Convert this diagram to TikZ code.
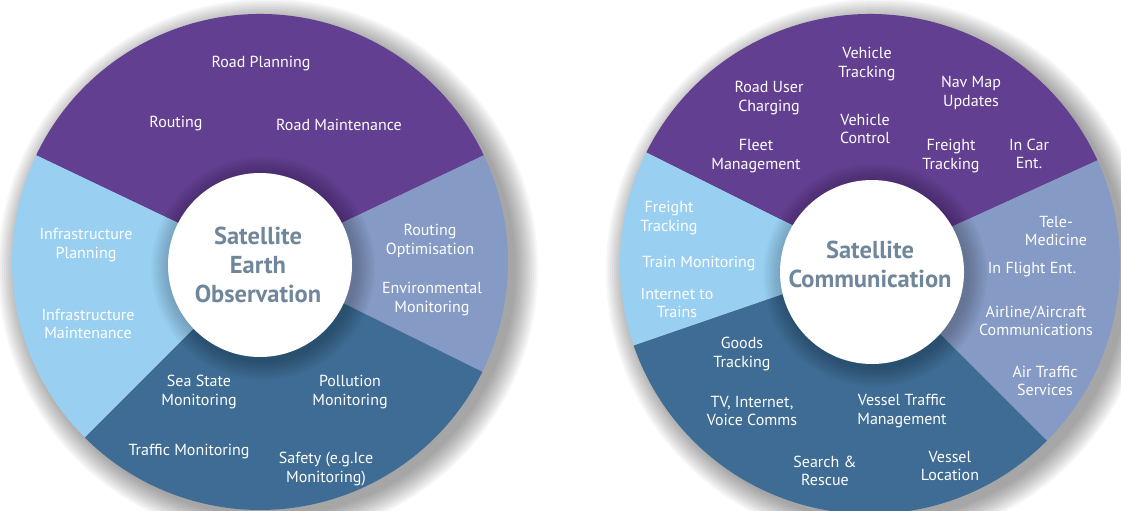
\documentclass[tikz,border=0pt]{standalone}
\usepackage{fontspec}
\setmainfont{PT Sans}
\begin{document}
\begin{tikzpicture}[x=1pt,y=-1pt,
  item/.style={inner sep=0, outer sep=0, yshift=-2pt, text=white, align=center, font=\fontsize{16}{18.5}\selectfont},
  hub/.style={inner sep=0, outer sep=0, text=custcol_70_87_9b, align=center, font=\fontsize{24.5}{29}\selectfont\bfseries}]
\definecolor{custcol_63_3f_91}{RGB}{99, 63, 145}
\definecolor{custcol_99_d0_f2}{RGB}{153, 208, 242}
\definecolor{custcol_85_9a_c4}{RGB}{133, 154, 196}
\definecolor{custcol_3e_6c_94}{RGB}{62, 108, 148}
\definecolor{custcol_70_87_9b}{RGB}{112, 135, 155}
\useasboundingbox (0,0) rectangle (1121,511);
% soft shadows behind both wheels
\foreach \k in {1,...,12} {
  \fill [black, opacity=0.035] (268,269) circle [radius=246+2*\k];
  \fill [black, opacity=0.035] (878,271) circle [radius=248+2*\k];
}
% left wheel
\fill [custcol_63_3f_91] (260,262) -- ++(-154.5:248) arc [start angle=-154.5, end angle=-25.5, radius=248] -- cycle;
\fill [custcol_85_9a_c4] (260,262) -- ++(-25.5:248) arc [start angle=-25.5, end angle=26.3, radius=248] -- cycle;
\fill [custcol_3e_6c_94] (260,262) -- ++(26.3:248) arc [start angle=26.3, end angle=135, radius=248] -- cycle;
\fill [custcol_99_d0_f2] (260,262) -- ++(135:248) arc [start angle=135, end angle=205.5, radius=248] -- cycle;
% right wheel
\fill [custcol_63_3f_91] (870,264) -- ++(-153.5:250) arc [start angle=-153.5, end angle=-24.5, radius=250] -- cycle;
\fill [custcol_85_9a_c4] (870,264) -- ++(-24.5:250) arc [start angle=-24.5, end angle=45, radius=250] -- cycle;
\fill [custcol_3e_6c_94] (870,264) -- ++(45:250) arc [start angle=45, end angle=161, radius=250] -- cycle;
\fill [custcol_99_d0_f2] (870,264) -- ++(161:250) arc [start angle=161, end angle=206.5, radius=250] -- cycle;
% shade round the hubs
\foreach \k in {1,...,10} {
  \fill [black, opacity=0.025] (263,268) circle [radius=92+2*\k];
  \fill [black, opacity=0.025] (875,275) circle [radius=92+2*\k];
}
\fill [white] (260,265) circle [radius=92];
\fill [white] (872,272) circle [radius=92];
% hub titles
\node [hub] (eo) at (258,265) {Satellite\\Earth\\Observation};
\node [hub] (comm) at (870,264) {Satellite\\Communication};
% left wheel items
\node [item] (roadplan) at (261,62) {Road Planning};
\node [item] (routing) at (176,122) {Routing};
\node [item] (roadmaint) at (339,123) {Road Maintenance};
\node [item] (infraplan) at (86,243) {Infrastructure\\Planning};
\node [item] (inframaint) at (88,322) {Infrastructure\\Maintenance};
\node [item] (routeopt) at (430,239) {Routing\\Optimisation};
\node [item] (envmon) at (432,297) {Environmental\\Monitoring};
\node [item] (seastate) at (199,390) {Sea State\\Monitoring};
\node [item] (pollution) at (350,390) {Pollution\\Monitoring};
\node [item] (trafficmon) at (189,450) {Traffic Monitoring};
\node [item] (safety) at (326,467) {Safety (e.g.Ice\\Monitoring)};
% right wheel items
\node [item] (vehtrack) at (867,62) {Vehicle\\Tracking};
\node [item] (roaduser) at (769,96) {Road User\\Charging};
\node [item] (navmap) at (971,91) {Nav Map\\Updates};
\node [item] (vehctrl) at (865,127) {Vehicle\\Control};
\node [item] (fleet) at (756,154) {Fleet\\Management};
\node [item] (freightA) at (951,154) {Freight\\Tracking};
\node [item] (incar) at (1029,152) {In Car\\Ent.};
\node [item] (freightB) at (669,216) {Freight\\Tracking};
\node [item] (trainmon) at (699,262) {Train Monitoring};
\node [item] (nettrains) at (677,301) {Internet to\\Trains};
\node [item] (telemed) at (1056,229) {Tele-\\Medicine};
\node [item] (inflight) at (1032,268) {In Flight Ent.};
\node [item] (airline) at (1036,319) {Airline/Aircraft\\Communications};
\node [item] (airtraffic) at (1045,379) {Air Traffic\\Services};
\node [item] (goods) at (742,352) {Goods\\Tracking};
\node [item] (tvnet) at (752,409) {TV, Internet,\\Voice Comms};
\node [item] (vesseltraf) at (902,409) {Vessel Traffic\\Management};
\node [item] (search) at (825,469) {Search \&\\Rescue};
\node [item] (vesselloc) at (950,464) {Vessel\\Location};
\end{tikzpicture}
\end{document}
